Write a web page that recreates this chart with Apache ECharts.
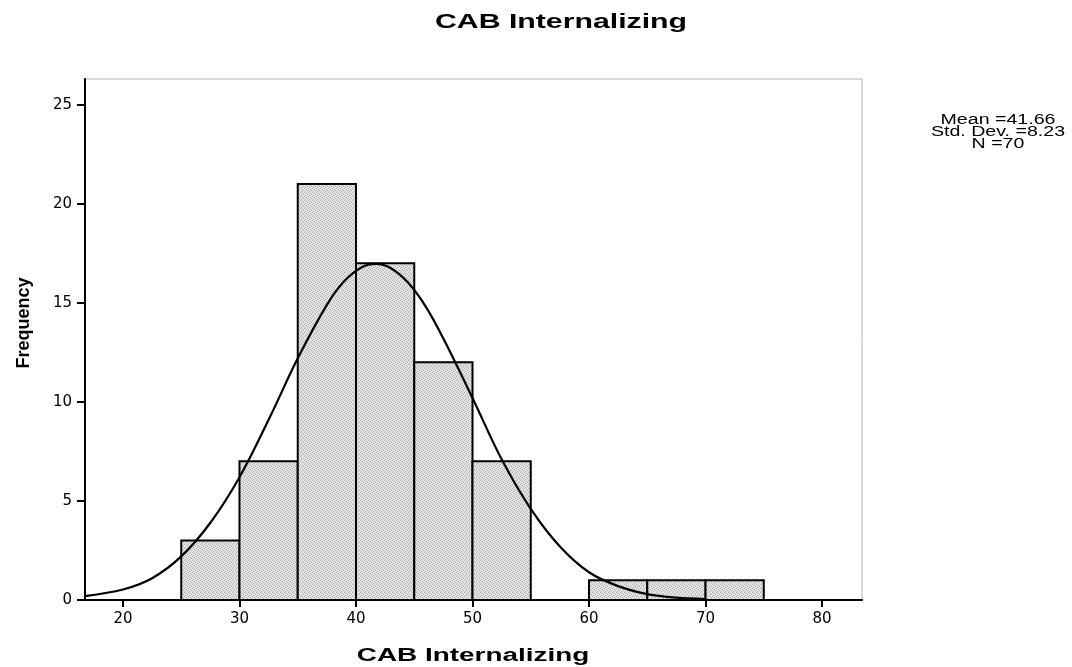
<!DOCTYPE html>
<html>
<head>
<meta charset="utf-8">
<title>CAB Internalizing</title>
<script src="https://cdn.jsdelivr.net/npm/echarts@6/dist/echarts.min.js"></script>
<style>
  html, body { margin: 0; padding: 0; background: #fff; }
  #main { width: 1072px; height: 667px; }
</style>
</head>
<body>
<div id="main"></div>
<script>
// histogram bins (lower edge, width 5) and counts
const binStart = [25, 30, 35, 40, 45, 50, 55, 60, 65, 70]
const binWidth = 5
const counts = [3, 7, 21, 17, 12, 7, 0, 1, 1, 1]

// normal curve
const curveX = [16.74, 20, 22.5, 25, 27.5, 30, 32.5, 35, 37.5, 39, 40.5, 41.7, 43, 44.5, 46, 47.5, 50, 52.5, 55, 57.5, 60, 62.5, 65, 67.5, 70]
const curveY = [0.2, 0.53, 1.1, 2.2, 3.9, 6.2, 9.1, 12.2, 14.9, 16.1, 16.8, 16.97, 16.75, 16.0, 14.8, 13.2, 10.2, 7.1, 4.6, 2.7, 1.4, 0.7, 0.3, 0.12, 0.05]

const xTicks = [20, 30, 40, 50, 60, 70, 80]
const yTicks = [0, 5, 10, 15, 20, 25]
const stats = ['Mean =41.66', 'Std. Dev. =8.23', 'N =70']

const font = '"Liberation Sans", Arial, sans-serif'
const tickFont = '"DejaVu Sans", sans-serif'

// speckled grey fill like the scanned bars
function speckle() {
  const c = document.createElement('canvas')
  c.width = 4
  c.height = 4
  const ctx = c.getContext('2d')
  ctx.fillStyle = '#e2e2e2'
  ctx.fillRect(0, 0, 4, 4)
  ctx.fillStyle = '#b2b2b2'
  ;[[0, 0], [2, 1], [1, 3], [3, 2]].forEach(p => ctx.fillRect(p[0], p[1], 1, 1))
  return c
}
const barFill = { image: speckle(), repeat: 'repeat' }

const chart = echarts.init(document.getElementById('main'))

const barData = binStart.map((s, i) => [s, s + binWidth, counts[i]])
const lineData = curveX.map((x, i) => [x, curveY[i]])

const option = {
  backgroundColor: '#fff',
  animation: false,
  grid: {
    left: 85, right: 210, top: 79, bottom: 67,
    show: true,
    borderColor: '#b0b0b0',
    borderWidth: 1
  },
  xAxis: {
    type: 'value',
    min: 16.74,
    max: 83.43,
    axisLine: { lineStyle: { color: '#000', width: 2 } },
    axisTick: { show: true, length: 7, customValues: xTicks, lineStyle: { color: '#000', width: 2 } },
    axisLabel: {
      fontFamily: tickFont, fontSize: 15, color: '#000', margin: 12,
      customValues: xTicks
    },
    splitLine: { show: false }
  },
  yAxis: {
    type: 'value',
    min: 0,
    max: 26.3,
    axisLine: { show: true, lineStyle: { color: '#000', width: 2 } },
    axisTick: { show: true, length: 8, customValues: yTicks, lineStyle: { color: '#000', width: 2 } },
    axisLabel: {
      fontFamily: tickFont, fontSize: 15, color: '#000', margin: 13,
      customValues: yTicks
    },
    splitLine: { show: false }
  },
  graphic: [
    {
      type: 'text',
      x: 561, y: 22, scaleX: 1.44,
      style: {
        text: 'CAB Internalizing', align: 'center', verticalAlign: 'middle',
        fontFamily: font, fontSize: 21, fontWeight: 'bold', fill: '#000'
      }
    },
    {
      type: 'text',
      x: 473, y: 656, scaleX: 1.55,
      style: {
        text: 'CAB Internalizing', align: 'center', verticalAlign: 'middle',
        fontFamily: font, fontSize: 18, fontWeight: 'bold', fill: '#000'
      }
    },
    {
      type: 'text',
      x: 24, y: 323, rotation: Math.PI / 2,
      style: {
        text: 'Frequency', align: 'center', verticalAlign: 'middle',
        fontFamily: font, fontSize: 18, fontWeight: 'bold', fill: '#000'
      }
    },
    {
      type: 'text',
      x: 998, y: 132, scaleX: 1.4,
      style: {
        text: stats.join('\n'), align: 'center', verticalAlign: 'middle',
        fontFamily: font, fontSize: 14, lineHeight: 12, fill: '#000'
      }
    }
  ],
  series: [
    {
      type: 'custom',
      name: 'Frequency',
      data: barData,
      encode: { x: [0, 1], y: 2 },
      renderItem: (params, api) => {
        if (api.value(2) <= 0) return null
        const p0 = api.coord([api.value(0), 0])
        const p1 = api.coord([api.value(1), api.value(2)])
        return {
          type: 'rect',
          shape: { x: p0[0], y: p1[1], width: p1[0] - p0[0], height: p0[1] - p1[1] },
          style: { fill: barFill, stroke: '#000', lineWidth: 2 }
        }
      },
      z: 2
    },
    {
      type: 'line',
      name: 'Normal',
      data: lineData,
      smooth: 0.35,
      showSymbol: false,
      lineStyle: { color: '#000', width: 2.2 },
      z: 3
    }
  ]
}

chart.setOption(option)
</script>
</body>
</html>
